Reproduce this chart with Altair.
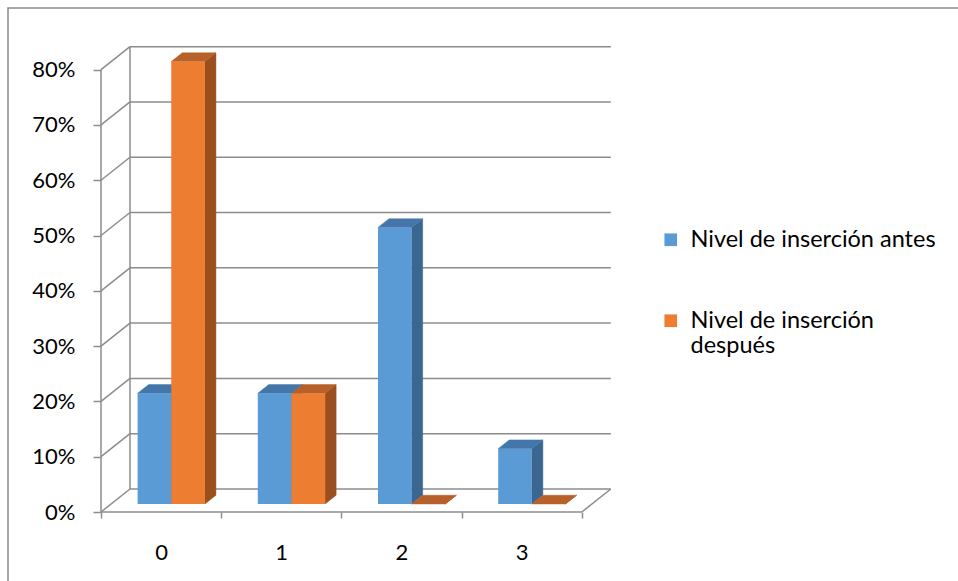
import json
import altair as alt
import pandas as pd

# ---- data ----
categories = ["0", "1", "2", "3"]
series = ["Nivel de inserción antes", "Nivel de inserción después"]
antes = [0.20, 0.20, 0.50, 0.10]
despues = [0.80, 0.20, 0.00, 0.00]
y_ticks = [0.0, 0.1, 0.2, 0.3, 0.4, 0.5, 0.6, 0.7, 0.8]

front_colors = ["#5b9bd5", "#ed7d31"]
top_colors = ["#4576aa", "#b8602a"]
side_colors = ["#3a668f", "#9b4f1e"]
grid_color = "#8c8c8c"
FONT = "Lato"

# ---- pseudo-3D geometry (in data units of the shared scales) ----
N = len(categories)
DX, DY = 0.2412, 0.0416      # full wall depth offset
Z0, Z1 = 0.35, 0.73          # bar front / back depth fractions
BW = 0.28                    # bar width
dX, dY = (Z1 - Z0) * DX, (Z1 - Z0) * DY

values = [antes, despues]
front_rows, side_rows, top_rows = [], [], []
for i, cat in enumerate(categories):
    c = i + 0.5 + Z0 * DX
    for s, name in enumerate(series):
        v = values[s][i]
        xl = c - BW + s * BW
        xr = xl + BW
        fid = f"c{i}s{s}"
        front_rows.append(dict(id=fid, series=name, s=s, x=xl, x2=xr,
                               y=Z0 * DY, y2=v + Z0 * DY))
        side_rows.append(dict(id=fid, s=s, x=xr, y=Z0 * DY, y2=v + Z0 * DY))
        side_rows.append(dict(id=fid, s=s, x=xr + dX, y=Z1 * DY, y2=v + Z1 * DY))
        top_rows.append(dict(id=fid, s=s, y=v + Z0 * DY, x=xl, x2=xr))
        top_rows.append(dict(id=fid, s=s, y=v + Z1 * DY, x=xl + dX, x2=xr + dX))

front_df = pd.DataFrame(front_rows)
side_df = pd.DataFrame(side_rows)
top_df = pd.DataFrame(top_rows)

top_v = y_ticks[-1]
seg = []
for v in y_ticks:
    seg.append(dict(x=DX, x2=N + DX, y=v + DY, y2=v + DY))   # back wall grid
    seg.append(dict(x=0, x2=DX, y=v, y2=v + DY))             # side wall diagonals
seg.append(dict(x=DX, x2=DX, y=DY, y2=top_v + DY))           # back wall edge
seg.append(dict(x=0, x2=0, y=0, y2=top_v))                   # front vertical
seg.append(dict(x=0, x2=N, y=0, y2=0))                       # floor front edge
seg.append(dict(x=N, x2=N + DX, y=0, y2=DY))                 # floor right edge
seg_df = pd.DataFrame(seg)

XDOM = [0, N + DX + 0.01]
YDOM = [0, 0.85]
xs = alt.Scale(domain=XDOM, nice=False, zero=False)
ys = alt.Scale(domain=YDOM, nice=False, zero=False)

cat_js = json.dumps(categories)
x_axis = alt.Axis(values=list(range(N + 1)), title=None, grid=False, domain=False,
                  labelExpr=f"datum.value < {N} ? {cat_js}[datum.value] : ''",
                  labelOffset=60, labelPadding=24, tickSize=6, tickColor=grid_color,
                  tickWidth=1.5, labelFlush=False, labelOverlap=False,
                  labelFont=FONT, labelFontSize=22, labelColor="#000000")
y_axis = alt.Axis(values=y_ticks, format=".0%", title=None, grid=False, domain=False,
                  tickSize=8, tickColor=grid_color, tickWidth=1.5, labelPadding=18,
                  labelFont=FONT, labelFontSize=22, labelColor="#000000")

frame = alt.Chart(alt.Data(values=[{}])).mark_rect(
    fillOpacity=0, stroke="#8a8a8a", strokeWidth=1.5
).encode(x=alt.value(-93), y=alt.value(-34), x2=alt.value(1000), y2=alt.value(700))

walls = alt.Chart(seg_df).mark_rule(color=grid_color, strokeWidth=1.5).encode(
    x=alt.X("x:Q", scale=xs, axis=x_axis),
    x2="x2:Q",
    y=alt.Y("y:Q", scale=ys, axis=y_axis),
    y2="y2:Q",
)

layers = [frame, walls]
for s in range(len(series)):
    layers.append(
        alt.Chart(side_df[side_df.s == s]).mark_area(
            orient="vertical", fill=side_colors[s], stroke=side_colors[s], strokeWidth=0.5
        ).encode(x=alt.X("x:Q", scale=xs), y=alt.Y("y:Q", scale=ys), y2="y2:Q",
                 detail="id:N")
    )
for s in range(len(series)):
    layers.append(
        alt.Chart(top_df[top_df.s == s]).mark_area(
            orient="horizontal", fill=top_colors[s], stroke=top_colors[s], strokeWidth=0.5
        ).encode(y=alt.Y("y:Q", scale=ys), x=alt.X("x:Q", scale=xs), x2="x2:Q",
                 detail="id:N")
    )

legend_expr = (f"datum.label == {json.dumps(series[1])} ? "
               f"['Nivel de inserción', 'después'] : datum.label")
fronts = alt.Chart(front_df).mark_rect().encode(
    x=alt.X("x:Q", scale=xs), x2="x2:Q",
    y=alt.Y("y:Q", scale=ys), y2="y2:Q",
    color=alt.Color("series:N", scale=alt.Scale(domain=series, range=front_colors),
                    sort=series,
                    legend=alt.Legend(title=None, orient="none", legendX=558, legendY=186,
                                      symbolType="square", symbolSize=160,
                                      symbolStrokeWidth=0, labelFont=FONT,
                                      labelFontSize=23.5, labelColor="#000000",
                                      labelOffset=8, labelLimit=0, rowPadding=56,
                                      labelExpr=legend_expr, labelBaseline="middle")),
)
layers.append(fronts)

chart = alt.layer(*layers).properties(
    width=511, height=470,
    padding={"left": 101, "top": 42, "right": 346, "bottom": 69},
    autosize=alt.AutoSizeParams(type="none"),
    background="white",
).configure_view(stroke=None)

chart.save("out.html", embed_options={"renderer": "svg", "actions": False})
